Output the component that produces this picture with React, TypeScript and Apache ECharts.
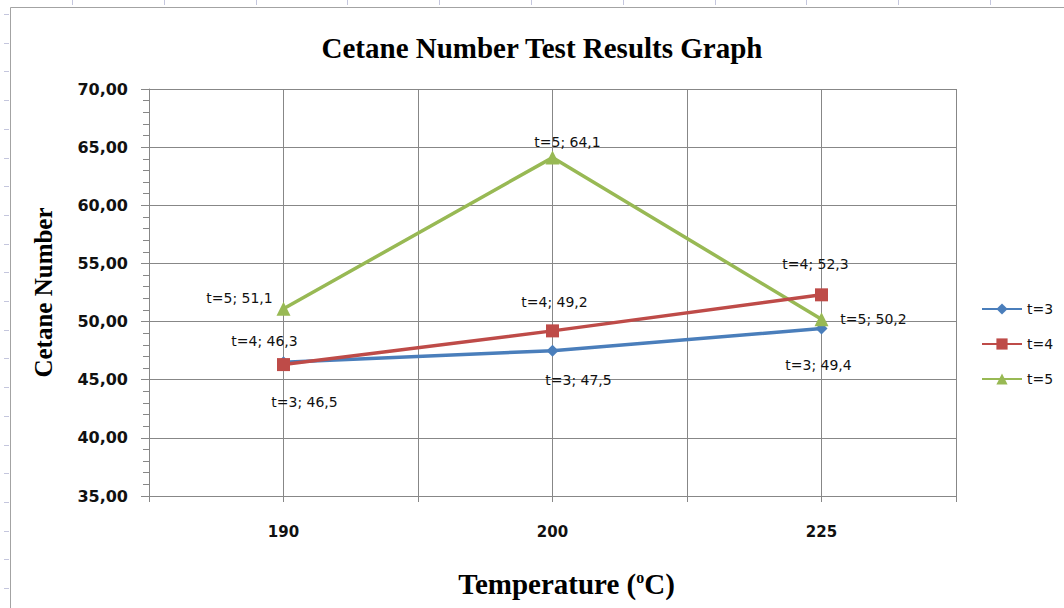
import React, { useEffect, useRef } from 'react';
import * as echarts from 'echarts';

const categories = ['190', '200', '225'];
const seriesNames = ['t=3', 't=4', 't=5'];
const t3Values = [46.5, 47.5, 49.4];
const t4Values = [46.3, 49.2, 52.3];
const t5Values = [51.1, 64.1, 50.2];
const yMin = 35;
const yMax = 70;
const yStep = 5;

// label offsets relative to point centre (layout only)
const labelOffsets = [
  [[21, 40], [26, 29], [-3, 36]],
  [[-19, -24], [2, -29], [-6, -31]],
  [[-44, -11], [15, -16], [52, 0]],
];

const colors = ['#4A7EBB', '#BE4B48', '#98B954'];
const symbols = ['diamond', 'rect', 'triangle'];
const symbolSizes = [12, 13, 14];

const LABEL_FONT = 'DejaVu Sans';
const SERIF = '"Liberation Serif", "Times New Roman", serif';

export default function App() {
  const ref = useRef<HTMLDivElement>(null);
  useEffect(() => {
    if (!ref.current) return;
    const chart = echarts.init(ref.current, undefined, { renderer: 'svg' });
    const allValues = [t3Values, t4Values, t5Values];
    const fmt = (v: number) => v.toFixed(1).replace('.', ',');
    const series = allValues.map((vals, si) => ({
      name: seriesNames[si],
      type: 'line',
      symbol: symbols[si],
      symbolSize: symbolSizes[si],
      lineStyle: { color: colors[si], width: 3.5 },
      itemStyle: { color: colors[si] },
      z: 3 + (si === 1 ? 1 : 0),
      data: vals.map((v, i) => ({
        value: [2 * i + 1, v],
        label: {
          show: true,
          position: 'inside',
          offset: labelOffsets[si][i],
          formatter: () => `${seriesNames[si]}; ${fmt(v)}`,
          fontFamily: LABEL_FONT,
          fontSize: 14,
          color: '#111',
        },
      })),
    }));

    const graphics: any[] = [
      {
        type: 'rect',
        shape: { x: 10.5, y: 7.5, width: 1200, height: 800 },
        style: { fill: 'none', stroke: '#a3a3a3', lineWidth: 1 },
        silent: true,
      },
    ];
    for (let k = 0; k < 11; k++) {
      const x = Math.round(72 + 91.8 * k) + 0.5;
      graphics.push({
        type: 'line',
        shape: { x1: x, y1: 0, x2: x, y2: 5 },
        style: { stroke: '#c4c6dd', lineWidth: 1 },
        silent: true,
      });
    }
    for (let k = 0; k < 21; k++) {
      const y = Math.round(14 + 28.7 * k) + 0.5;
      graphics.push({
        type: 'line',
        shape: { x1: 4, y1: y, x2: 9, y2: y },
        style: { stroke: '#c4c6dd', lineWidth: 1 },
        silent: true,
      });
    }

    chart.setOption({
      animation: false,
      backgroundColor: '#ffffff',
      title: {
        text: 'Cetane Number Test Results Graph',
        left: 537,
        textAlign: 'center',
        top: 28,
        textStyle: { fontFamily: SERIF, fontWeight: 'bold', fontSize: 29, color: '#000' },
      },
      grid: { left: 149, right: 108, top: 89, bottom: 112, outerBoundsMode: 'none', containLabel: false },
      legend: {
        orient: 'vertical',
        left: 976,
        top: 297,
        itemWidth: 40,
        itemHeight: 14,
        itemGap: 21,
        textStyle: { fontFamily: LABEL_FONT, fontSize: 14, color: '#111' },
        data: seriesNames,
      },
      xAxis: {
        type: 'value',
        min: 0,
        max: 6,
        interval: 1,
        name: 'Temperature ({sup|o}C)',
        nameLocation: 'middle',
        nameGap: 73,
        nameTextStyle: {
          fontFamily: SERIF,
          fontWeight: 'bold',
          fontSize: 29,
          color: '#000',
          padding: [0, 0, 0, 28],
          rich: {
            sup: {
              fontFamily: SERIF,
              fontWeight: 'bold',
              fontSize: 16,
              color: '#000',
              padding: [0, 0, 12, 0],
            },
          },
        },
        axisLine: { show: true, lineStyle: { color: '#878787', width: 1 } },
        axisTick: { show: true, length: 6, lineStyle: { color: '#878787' } },
        axisLabel: {
          margin: 28,
          fontFamily: LABEL_FONT,
          fontWeight: 'bold',
          fontSize: 15,
          color: '#111',
          formatter: (v: number) => (v % 2 === 1 ? categories[(v - 1) / 2] : ''),
        },
        splitLine: { show: true, lineStyle: { color: '#878787', width: 1 } },
      },
      yAxis: {
        type: 'value',
        min: yMin,
        max: yMax,
        interval: yStep,
        name: 'Cetane Number',
        nameLocation: 'middle',
        nameGap: 93,
        nameTextStyle: { fontFamily: SERIF, fontWeight: 'bold', fontSize: 25, color: '#000' },
        axisLine: { show: true, lineStyle: { color: '#878787', width: 1 } },
        axisTick: { show: true, length: 8, lineStyle: { color: '#878787' } },
        minorTick: { show: true, splitNumber: 5, length: 6, lineStyle: { color: '#878787' } },
        axisLabel: {
          margin: 21,
          fontFamily: LABEL_FONT,
          fontWeight: 'bold',
          fontSize: 16,
          color: '#111',
          formatter: (v: number) => v.toFixed(2).replace('.', ','),
        },
        splitLine: { show: true, lineStyle: { color: '#878787', width: 1 } },
      },
      graphic: graphics,
      series,
    });
    return () => chart.dispose();
  }, []);
  return (
    <div
      ref={ref}
      style={{ position: 'fixed', left: 0, top: 0, width: 1064, height: 608 }}
    />
  );
}
